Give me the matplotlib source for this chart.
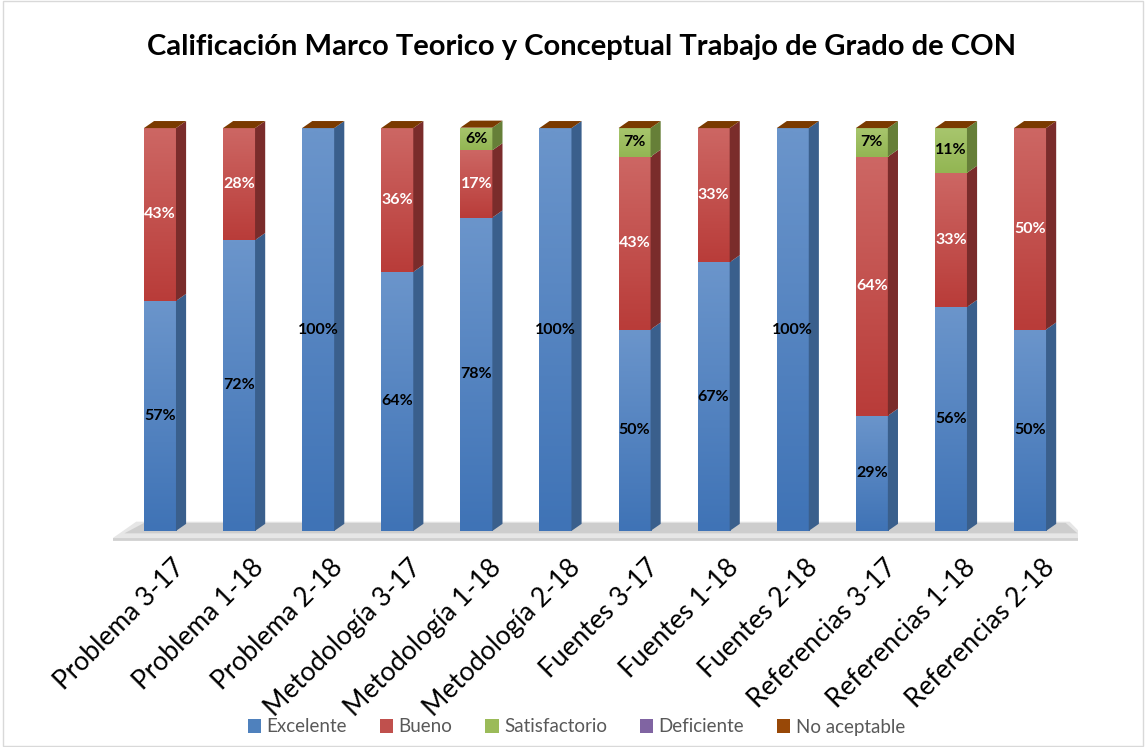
import numpy as np
import matplotlib.pyplot as plt
from matplotlib.patches import Polygon, Rectangle
from matplotlib.colors import LinearSegmentedColormap

plt.rcParams['font.family'] = ['Lato', 'DejaVu Sans']

categories = ['Problema 3-17', 'Problema 1-18', 'Problema 2-18',
              'Metodología 3-17', 'Metodología 1-18', 'Metodología 2-18',
              'Fuentes 3-17', 'Fuentes 1-18', 'Fuentes 2-18',
              'Referencias 3-17', 'Referencias 1-18', 'Referencias 2-18']

excelente = [57.1, 72.2, 100, 64.3, 77.8, 100, 50.0, 66.7, 100, 28.6, 55.6, 50.0]
bueno = [42.9, 27.8, 0, 35.7, 16.7, 0, 42.9, 33.3, 0, 64.3, 33.3, 50.0]
satisfactorio = [0, 0, 0, 0, 5.6, 0, 7.1, 0, 0, 7.1, 11.1, 0]
deficiente = [0] * 12
no_aceptable = [0] * 12

series = ['Excelente', 'Bueno', 'Satisfactorio', 'Deficiente', 'No aceptable']
values = [excelente, bueno, satisfactorio, deficiente, no_aceptable]

# front (top, bottom), side colour, label colour
styles = {
    'Excelente': ('#6b95cb', '#3f73b6', '#3a5f8c', 'black'),
    'Bueno': ('#cd6764', '#b93c39', '#7a2c2b', 'white'),
    'Satisfactorio': ('#a8c66e', '#92b552', '#667f38', 'black'),
    'Deficiente': ('#9079b0', '#7359a0', '#4f3b70', 'white'),
    'No aceptable': ('#a85a1c', '#984807', '#6b3205', 'white'),
}
legend_colors = ['#4f81bd', '#c0504d', '#9bbb59', '#8064a2', '#984807']
top_color = '#7a3a00'

fig = plt.figure(figsize=(11.48, 7.47), dpi=100)
W, H = 1148, 747
ax = fig.add_axes([112.5 / W, 1 - 543 / H, 965 / W, 427 / H])
ax.set_xlim(-0.6, 11.6)
ax.set_ylim(-3, 103)
ax.axis('off')

w = 0.405
dx, dy = 0.128, 1.75
x = np.arange(len(categories))

# floor
ax.add_patch(Polygon([(-0.62, -2.1), (11.72, -2.1), (11.5, 2.3), (-0.3, 2.3)],
                     closed=True, facecolor='#e6e6e6', edgecolor='none', zorder=0))
ax.add_patch(Polygon([(-0.45, -0.6), (11.6, -0.6), (11.45, 2.0), (-0.2, 2.0)],
                     closed=True, facecolor='#bdbdbd', edgecolor='none', alpha=0.6, zorder=0))
ax.plot([-0.62, 11.72], [-2.1, -2.1], color='#d0d0d0', lw=2, zorder=1)

grad = np.linspace(1, 0, 64).reshape(-1, 1)
bottom = np.zeros(len(categories))
for name, vals in zip(series, values):
    ctop, cbot, cside, ctext = styles[name]
    cmap = LinearSegmentedColormap.from_list(name, [cbot, ctop])
    vals = np.array(vals, dtype=float)
    for i in range(len(categories)):
        v = vals[i]
        if v <= 0:
            continue
        y0, y1 = bottom[i], bottom[i] + v
        xl, xr = x[i] - w / 2, x[i] + w / 2
        rect = Rectangle((xl, y0), w, v, facecolor=cbot, edgecolor='none', zorder=3)
        ax.add_patch(rect)
        im = ax.imshow(grad, cmap=cmap, extent=(xl, xr, y0 - 0.3, y1 + 0.3), aspect='auto',
                       interpolation='bilinear', zorder=3)
        im.set_clip_path(rect)
        side = Polygon([(xr, y0), (xr + dx, y0 + dy), (xr + dx, y1 + dy), (xr, y1)],
                       closed=True, facecolor=cside, edgecolor='none', zorder=3)
        ax.add_patch(side)
        ax.text(x[i], (y0 + y1) / 2, f'{v:.0f}%', ha='center', va='center',
                fontsize=11.5, fontweight='bold', color=ctext, zorder=5)
    bottom += vals

for i in range(len(categories)):
    xl, xr = x[i] - w / 2, x[i] + w / 2
    t = bottom[i]
    ax.add_patch(Polygon([(xl, t), (xr, t), (xr + dx, t + dy), (xl + dx, t + dy)],
                         closed=True, facecolor=top_color, edgecolor='none', zorder=4))

ax.set_xlim(-0.6, 11.6)
ax.set_ylim(-3, 103)

for i, c in enumerate(categories):
    ax.text(x[i] + 0.15, -6.0, c, rotation=45, ha='right', va='top',
            rotation_mode='anchor', fontsize=19, color='black')

fig.text(581.5 / W, 1 - 47 / H, 'Calificación Marco Teorico y Conceptual Trabajo de Grado de CON',
         ha='center', va='center', fontsize=21, fontweight='bold')

handles = [Rectangle((0, 0), 1, 1, facecolor=c) for c in legend_colors]
leg = fig.legend(handles, series, loc='center', bbox_to_anchor=(576.5 / W, 1 - 727 / H),
                 ncol=5, frameon=False, fontsize=13.5, handlelength=0.7, handleheight=0.7,
                 handletextpad=0.3, columnspacing=1.75)
for t in leg.get_texts():
    t.set_color('#595959')

fig.add_artist(Rectangle((0.003, 0.002), 0.993, 0.996, transform=fig.transFigure,
                         facecolor='none', edgecolor='#d9d9d9', lw=1))

fig.savefig('out.png', dpi=100)
